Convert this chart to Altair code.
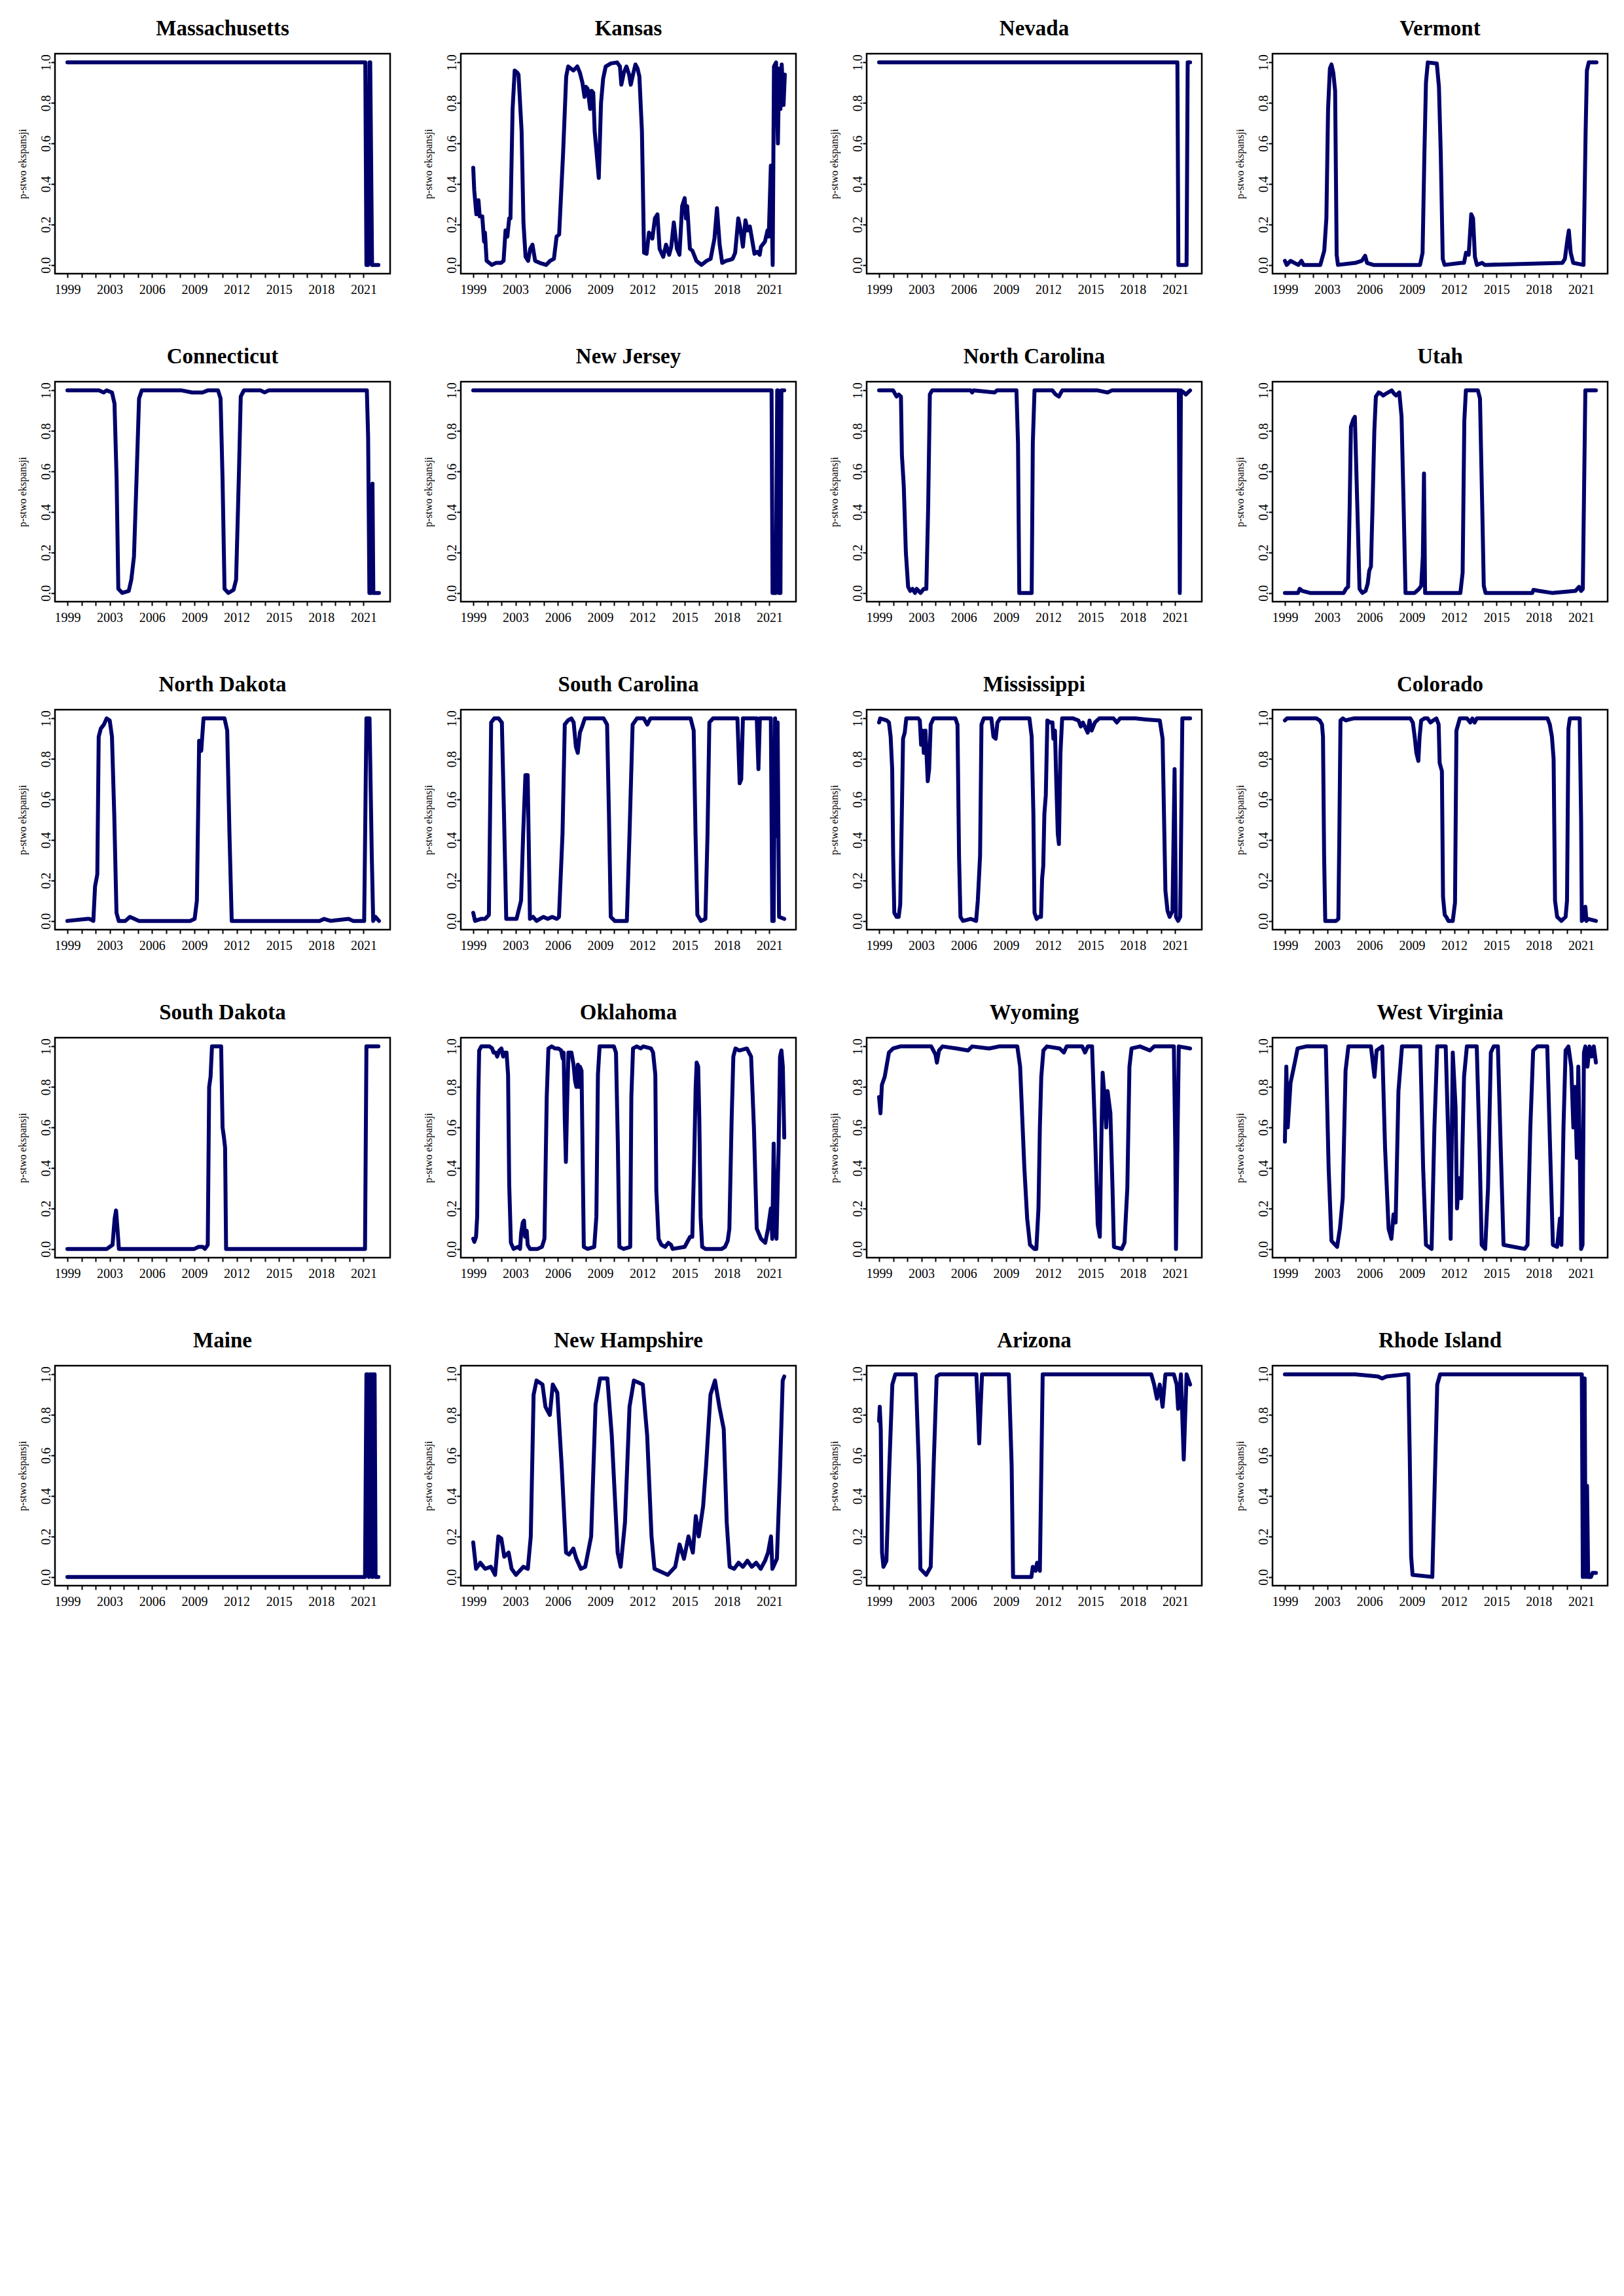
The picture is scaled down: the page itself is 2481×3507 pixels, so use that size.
import altair as alt
import pandas as pd

# x position: 0 = first tick ("1999"), one unit per tick
TICK_LABELS = ["1999", "", "", "2003", "", "", "2006", "", "", "2009", "", "",
               "2012", "", "", "2015", "", "", "2018", "", "", "2021"]
Y_TICKS = [0.0, 0.2, 0.4, 0.6, 0.8, 1.0]
Y_TITLE = "p-stwo ekspansji"

MASSACHUSETTS = [(0, 1.0), (21.12, 1.0), (21.2, 0.0), (21.32, 0.0), (21.42, 1.0), (21.47, 1.0),
                 (21.6, 0.0), (22.05, 0.0)]

KANSAS = [(0, 0.48), (0.07, 0.37), (0.22, 0.25), (0.37, 0.32), (0.46, 0.24), (0.64, 0.24), (0.77, 0.115),
          (0.83, 0.16), (0.95, 0.02), (1.32, 0.0), (1.6, 0.01), (1.96, 0.01), (2.15, 0.02), (2.29, 0.17),
          (2.42, 0.14), (2.55, 0.23), (2.64, 0.23), (2.79, 0.77), (2.94, 0.96), (3.12, 0.95), (3.21, 0.94),
          (3.43, 0.66), (3.56, 0.21), (3.71, 0.04), (3.89, 0.02), (4.04, 0.08), (4.2, 0.10), (4.39, 0.02),
          (4.72, 0.01), (5.17, 0.0), (5.45, 0.02), (5.72, 0.03), (5.91, 0.14), (6.09, 0.15), (6.37, 0.55),
          (6.59, 0.93), (6.73, 0.98), (7.1, 0.96), (7.38, 0.98), (7.56, 0.95), (7.74, 0.9), (7.89, 0.83),
          (7.98, 0.88), (8.11, 0.87), (8.29, 0.77), (8.39, 0.86), (8.51, 0.85), (8.61, 0.66), (8.75, 0.55),
          (8.9, 0.43), (9.06, 0.8), (9.21, 0.92), (9.39, 0.98), (9.76, 0.995), (10.2, 1.0), (10.4, 0.98),
          (10.5, 0.89), (10.68, 0.95), (10.86, 0.98), (11.05, 0.94), (11.17, 0.89), (11.36, 0.95),
          (11.5, 0.99), (11.65, 0.97), (11.78, 0.93), (11.96, 0.66), (12.11, 0.06), (12.29, 0.055),
          (12.46, 0.16), (12.7, 0.13), (12.88, 0.23), (13.06, 0.25), (13.21, 0.08), (13.47, 0.04),
          (13.67, 0.10), (13.89, 0.05), (14.04, 0.09), (14.22, 0.21), (14.44, 0.08), (14.62, 0.05),
          (14.81, 0.29), (14.99, 0.33), (15.08, 0.23), (15.17, 0.29), (15.36, 0.08), (15.54, 0.07),
          (15.82, 0.02), (16.18, 0.0), (16.55, 0.02), (16.83, 0.03), (17.1, 0.13), (17.28, 0.28),
          (17.47, 0.10), (17.65, 0.01), (17.93, 0.02), (18.2, 0.025), (18.39, 0.03), (18.57, 0.06),
          (18.79, 0.23), (18.94, 0.18), (19.12, 0.09), (19.3, 0.22), (19.45, 0.17), (19.61, 0.19),
          (19.94, 0.055), (20.13, 0.065), (20.31, 0.05), (20.4, 0.09), (20.68, 0.115), (20.86, 0.17),
          (20.95, 0.14), (21.1, 0.49), (21.23, 0.0), (21.32, 0.98), (21.47, 1.0), (21.6, 0.6),
          (21.69, 0.97), (21.78, 0.77), (21.87, 0.99), (22.0, 0.79), (22.09, 0.94)]

NEVADA = [(0, 1.0), (21.15, 1.0), (21.22, 0.0), (21.8, 0.0), (21.88, 1.0), (22.05, 1.0)]

VERMONT = [(0, 0.02), (0.13, 0.0), (0.4, 0.02), (0.68, 0.01), (0.95, 0.0), (1.17, 0.02), (1.32, 0.0),
           (2.51, 0.0), (2.79, 0.07), (2.94, 0.23), (3.06, 0.77), (3.19, 0.97), (3.3, 0.99), (3.43, 0.95),
           (3.56, 0.86), (3.67, 0.05), (3.76, 0.0), (4.99, 0.01), (5.45, 0.02), (5.69, 0.045), (5.82, 0.01),
           (6.28, 0.0), (9.58, 0.0), (9.76, 0.06), (9.89, 0.55), (10.0, 0.9), (10.13, 1.0), (10.77, 0.995),
           (10.92, 0.88), (11.05, 0.55), (11.19, 0.03), (11.32, 0.0), (12.51, 0.01), (12.7, 0.01),
           (12.84, 0.06), (13.03, 0.05), (13.21, 0.25), (13.34, 0.23), (13.47, 0.04), (13.61, 0.0),
           (13.98, 0.01), (14.17, 0.0), (19.67, 0.01), (19.85, 0.03), (20.04, 0.13), (20.13, 0.17),
           (20.26, 0.06), (20.44, 0.01), (21.17, 0.0), (21.32, 0.66), (21.41, 0.96), (21.54, 1.0),
           (22.09, 1.0)]

CONNECTICUT = [(0, 1.0), (2.24, 1.0), (2.57, 0.99), (2.79, 1.0), (3.16, 0.99), (3.34, 0.935), (3.49, 0.56),
               (3.61, 0.02), (3.89, 0.0), (4.35, 0.01), (4.53, 0.065), (4.72, 0.18), (4.9, 0.56),
               (5.08, 0.96), (5.27, 1.0), (8.11, 1.0), (8.84, 0.99), (9.58, 0.99), (9.94, 1.0),
               (10.68, 1.0), (10.86, 0.96), (11.0, 0.56), (11.14, 0.02), (11.41, 0.0), (11.78, 0.015),
               (11.96, 0.065), (12.15, 0.56), (12.29, 0.97), (12.51, 1.0), (13.7, 1.0), (13.98, 0.99),
               (14.26, 1.0), (21.23, 1.0), (21.32, 0.77), (21.41, 0.0), (21.54, 0.0), (21.63, 0.54),
               (21.69, 0.0), (22.09, 0.0)]

NEW_JERSEY = [(0, 1.0), (21.15, 1.0), (21.22, 0.0), (21.45, 0.0), (21.55, 1.0), (21.6, 1.0), (21.68, 0.0),
              (21.78, 0.0), (21.85, 1.0), (22.05, 1.0)]

NORTH_CAROLINA = [(0, 1.0), (1.0, 1.0), (1.24, 0.97), (1.39, 0.98), (1.55, 0.97), (1.62, 0.68), (1.75, 0.53),
                  (1.9, 0.2), (2.06, 0.03), (2.21, 0.01), (2.37, 0.02), (2.55, 0.0), (2.67, 0.02),
                  (2.94, 0.0), (3.17, 0.02), (3.35, 0.02), (3.48, 0.42), (3.6, 0.98), (3.76, 1.0),
                  (6.49, 1.0), (6.6, 0.99), (6.7, 1.0), (8.2, 0.99), (8.35, 1.0), (9.74, 1.0), (9.85, 0.74),
                  (9.94, 0.0), (10.82, 0.0), (10.9, 0.74), (11.02, 1.0), (12.29, 1.0), (12.52, 0.98),
                  (12.75, 0.97), (12.98, 1.0), (15.5, 1.0), (16.2, 0.99), (16.5, 1.0), (21.25, 1.0),
                  (21.32, 0.0), (21.4, 1.0), (21.6, 0.99), (21.75, 0.98), (21.9, 0.99), (22.05, 1.0)]

UTAH = [(0, 0.0), (0.93, 0.0), (1.05, 0.02), (1.24, 0.01), (1.78, 0.0), (4.17, 0.0), (4.33, 0.02), (4.48, 0.03),
        (4.59, 0.42), (4.68, 0.82), (4.84, 0.855), (4.96, 0.87), (5.05, 0.64), (5.18, 0.31), (5.29, 0.02),
        (5.49, 0.0), (5.72, 0.01), (5.87, 0.045), (5.98, 0.11), (6.1, 0.13), (6.21, 0.42), (6.34, 0.8),
        (6.45, 0.97), (6.65, 0.99), (6.8, 0.985), (6.96, 0.975), (7.19, 0.985), (7.57, 1.0), (7.73, 0.985),
        (7.88, 0.975), (8.11, 0.99), (8.27, 0.87), (8.42, 0.42), (8.55, 0.0), (9.2, 0.0), (9.51, 0.02),
        (9.66, 0.035), (9.78, 0.18), (9.86, 0.59), (9.94, 0.0), (12.44, 0.0), (12.6, 0.1), (12.72, 0.85),
        (12.83, 1.0), (13.68, 1.0), (13.83, 0.96), (13.99, 0.42), (14.1, 0.035), (14.22, 0.0), (17.54, 0.0),
        (17.62, 0.015), (18.0, 0.01), (18.93, 0.0), (20.6, 0.01), (20.85, 0.03), (21.0, 0.01), (21.12, 0.02),
        (21.3, 1.0), (22.05, 1.0)]

NORTH_DAKOTA = [(0, 0.0), (1.42, 0.01), (1.58, 0.01), (1.84, 0.0), (1.96, 0.17), (2.12, 0.23), (2.22, 0.91),
                (2.37, 0.95), (2.59, 0.97), (2.78, 1.0), (3.0, 0.99), (3.16, 0.91), (3.32, 0.53), (3.48, 0.04),
                (3.64, 0.0), (4.11, 0.0), (4.43, 0.02), (4.75, 0.01), (5.06, 0.0), (8.7, 0.0), (9.02, 0.01),
                (9.18, 0.1), (9.34, 0.89), (9.49, 0.84), (9.65, 1.0), (11.14, 1.0), (11.33, 0.94),
                (11.49, 0.43), (11.65, 0.0), (17.88, 0.0), (18.2, 0.01), (18.67, 0.0), (19.94, 0.01),
                (20.25, 0.0), (21.04, 0.0), (21.2, 1.0), (21.42, 1.0), (21.58, 0.32), (21.68, 0.0),
                (21.84, 0.02), (22.09, 0.0)]

SOUTH_CAROLINA = [(0, 0.04), (0.13, 0.0), (0.54, 0.01), (0.85, 0.01), (1.11, 0.03), (1.27, 0.98), (1.49, 1.0),
                  (1.8, 1.0), (2.03, 0.98), (2.18, 0.53), (2.34, 0.01), (3.07, 0.01), (3.39, 0.1), (3.54, 0.43),
                  (3.7, 0.72), (3.86, 0.72), (4.02, 0.01), (4.24, 0.02), (4.49, 0.0), (4.97, 0.02), (5.28, 0.01),
                  (5.6, 0.02), (5.92, 0.01), (6.08, 0.02), (6.33, 0.43), (6.49, 0.97), (6.71, 0.99), (6.96, 1.0),
                  (7.12, 0.98), (7.28, 0.86), (7.41, 0.83), (7.56, 0.93), (7.72, 0.96), (7.91, 1.0), (9.24, 1.0),
                  (9.49, 0.97), (9.62, 0.53), (9.75, 0.02), (10.03, 0.0), (10.89, 0.0), (11.08, 0.43),
                  (11.3, 0.97), (11.61, 1.0), (12.09, 1.0), (12.34, 0.97), (12.56, 1.0), (15.41, 1.0),
                  (15.63, 0.94), (15.76, 0.43), (15.89, 0.03), (16.14, 0.0), (16.46, 0.01), (16.61, 0.43),
                  (16.74, 0.98), (17.0, 1.0), (18.73, 1.0), (18.89, 0.68), (19.0, 0.7), (19.12, 1.0),
                  (20.1, 1.0), (20.22, 0.75), (20.32, 1.0), (21.1, 1.0), (21.2, 0.0), (21.3, 0.0), (21.4, 1.0),
                  (21.5, 0.42), (21.58, 0.98), (21.68, 0.02), (22.05, 0.01)]

MISSISSIPPI = [(0, 0.98), (0.08, 1.0), (0.54, 0.99), (0.7, 0.98), (0.82, 0.91), (0.93, 0.75), (1.0, 0.32),
               (1.08, 0.04), (1.24, 0.02), (1.39, 0.02), (1.5, 0.08), (1.59, 0.43), (1.7, 0.9), (1.82, 0.93),
               (1.93, 1.0), (2.78, 1.0), (2.89, 0.99), (2.98, 0.87), (3.09, 0.94), (3.17, 0.83), (3.29, 0.94),
               (3.45, 0.69), (3.55, 0.75), (3.66, 0.97), (3.86, 1.0), (5.41, 1.0), (5.56, 0.97), (5.67, 0.32),
               (5.77, 0.02), (5.95, 0.0), (6.49, 0.01), (6.88, 0.0), (7.0, 0.1), (7.16, 0.32), (7.26, 0.97),
               (7.42, 1.0), (7.96, 1.0), (8.11, 0.91), (8.27, 0.9), (8.39, 0.98), (8.58, 1.0), (10.66, 1.0),
               (10.82, 0.91), (10.94, 0.53), (11.02, 0.04), (11.17, 0.01), (11.33, 0.02), (11.48, 0.02),
               (11.56, 0.21), (11.64, 0.27), (11.72, 0.53), (11.82, 0.62), (11.93, 0.99), (12.13, 0.98),
               (12.29, 0.98), (12.36, 0.9), (12.47, 0.94), (12.57, 0.67), (12.67, 0.43), (12.75, 0.38),
               (12.86, 0.83), (12.98, 1.0), (13.76, 1.0), (14.14, 0.99), (14.3, 0.96), (14.45, 0.98),
               (14.79, 0.93), (14.92, 0.99), (15.07, 0.94), (15.3, 0.98), (15.61, 1.0), (16.62, 1.0),
               (16.86, 0.98), (17.08, 1.0), (18.16, 1.0), (18.93, 0.995), (19.9, 0.99), (20.1, 0.9),
               (20.3, 0.15), (20.45, 0.05), (20.6, 0.02), (20.8, 0.05), (20.95, 0.75), (21.05, 0.02),
               (21.2, 0.0), (21.35, 0.02), (21.5, 1.0), (22.05, 1.0)]

COLORADO = [(0, 0.99), (0.15, 1.0), (2.24, 1.0), (2.47, 0.99), (2.63, 0.97), (2.7, 0.91), (2.78, 0.32),
            (2.86, 0.0), (3.63, 0.0), (3.79, 0.01), (3.86, 0.43), (3.94, 0.99), (4.1, 1.0), (4.33, 0.99),
            (4.56, 0.995), (4.87, 1.0), (8.89, 1.0), (9.07, 0.98), (9.2, 0.91), (9.32, 0.83), (9.46, 0.79),
            (9.55, 0.91), (9.66, 0.99), (9.89, 1.0), (10.12, 1.0), (10.32, 0.98), (10.51, 0.99), (10.74, 1.0),
            (10.9, 0.97), (10.97, 0.78), (11.13, 0.74), (11.21, 0.12), (11.33, 0.03), (11.44, 0.02),
            (11.59, 0.0), (11.9, 0.0), (12.06, 0.09), (12.16, 0.94), (12.4, 1.0), (12.91, 1.0), (13.14, 0.98),
            (13.29, 1.0), (13.45, 0.98), (13.6, 1.0), (18.62, 1.0), (18.78, 0.97), (18.93, 0.91),
            (19.05, 0.8), (19.15, 0.1), (19.3, 0.02), (19.6, 0.0), (19.9, 0.02), (20.0, 0.1), (20.1, 0.95),
            (20.2, 1.0), (20.9, 1.0), (21.0, 0.5), (21.05, 0.0), (21.2, 0.01), (21.3, 0.07), (21.38, 0.0),
            (21.5, 0.01), (22.05, 0.0)]

SOUTH_DAKOTA = [(0, 0.0), (2.8, 0.0), (3.0, 0.01), (3.2, 0.02), (3.35, 0.15), (3.45, 0.19), (3.55, 0.1),
                (3.65, 0.0), (9.0, 0.0), (9.3, 0.01), (9.6, 0.01), (9.75, 0.0), (9.95, 0.02), (10.05, 0.8),
                (10.15, 0.85), (10.25, 1.0), (10.9, 1.0), (11.0, 0.6), (11.1, 0.55), (11.18, 0.5),
                (11.25, 0.0), (21.1, 0.0), (21.2, 1.0), (22.05, 1.0)]

OKLAHOMA = [(0, 0.05), (0.08, 0.035), (0.2, 0.06), (0.28, 0.16), (0.36, 0.75), (0.42, 0.98), (0.57, 1.0),
            (1.16, 1.0), (1.34, 0.99), (1.44, 0.97), (1.59, 0.97), (1.7, 0.95), (1.85, 0.98), (2.0, 0.99),
            (2.12, 0.95), (2.24, 0.97), (2.36, 0.97), (2.47, 0.86), (2.55, 0.32), (2.67, 0.03), (2.86, 0.0),
            (3.17, 0.01), (3.32, 0.0), (3.4, 0.08), (3.51, 0.13), (3.6, 0.14), (3.68, 0.06), (3.79, 0.09),
            (3.86, 0.02), (4.02, 0.0), (4.56, 0.0), (4.87, 0.01), (5.05, 0.05), (5.21, 0.75), (5.33, 0.99),
            (5.56, 1.0), (5.8, 0.99), (6.03, 0.99), (6.23, 0.98), (6.34, 0.94), (6.41, 0.97), (6.49, 0.64),
            (6.57, 0.43), (6.65, 0.7), (6.75, 0.97), (6.96, 0.97), (7.11, 0.91), (7.22, 0.83), (7.31, 0.8),
            (7.42, 0.91), (7.5, 0.8), (7.57, 0.9), (7.68, 0.88), (7.76, 0.43), (7.84, 0.01), (8.11, 0.0),
            (8.58, 0.01), (8.73, 0.16), (8.84, 0.86), (8.96, 1.0), (9.97, 1.0), (10.12, 0.97), (10.25, 0.53),
            (10.36, 0.01), (10.66, 0.0), (11.13, 0.01), (11.21, 0.75), (11.33, 0.99), (11.59, 1.0),
            (11.87, 0.99), (12.06, 1.0), (12.6, 0.99), (12.75, 0.97), (12.91, 0.86), (12.98, 0.29),
            (13.14, 0.05), (13.34, 0.02), (13.6, 0.01), (13.83, 0.03), (14.02, 0.02), (14.14, 0.0),
            (14.99, 0.01), (15.22, 0.04), (15.38, 0.06), (15.53, 0.06), (15.66, 0.43), (15.77, 0.8),
            (15.84, 0.92), (15.95, 0.9), (16.03, 0.64), (16.12, 0.16), (16.23, 0.01), (16.46, 0.0),
            (17.62, 0.0), (17.85, 0.01), (18.04, 0.04), (18.16, 0.1), (18.32, 0.64), (18.44, 0.95),
            (18.59, 0.99), (18.86, 0.98), (19.4, 0.99), (19.7, 0.95), (19.9, 0.6), (20.1, 0.1), (20.4, 0.05),
            (20.7, 0.03), (20.9, 0.1), (21.1, 0.2), (21.2, 0.05), (21.3, 0.52), (21.4, 0.1), (21.5, 0.05),
            (21.65, 0.5), (21.75, 0.95), (21.85, 0.98), (21.95, 0.9), (22.05, 0.55)]

WYOMING = [(0, 0.75), (0.1, 0.67), (0.2, 0.81), (0.4, 0.85), (0.7, 0.97), (1.0, 0.99), (1.5, 1.0), (3.7, 1.0),
           (4.0, 0.96), (4.1, 0.92), (4.25, 0.98), (4.5, 1.0), (5.5, 0.99), (6.3, 0.98), (6.6, 1.0),
           (7.8, 0.99), (8.5, 1.0), (9.8, 1.0), (10.0, 0.9), (10.3, 0.4), (10.5, 0.15), (10.7, 0.02),
           (11.0, 0.0), (11.15, 0.0), (11.3, 0.2), (11.4, 0.6), (11.5, 0.85), (11.65, 0.98), (11.9, 1.0),
           (12.8, 0.99), (13.1, 0.97), (13.3, 1.0), (14.4, 1.0), (14.6, 0.97), (14.8, 1.0), (15.1, 1.0),
           (15.3, 0.6), (15.5, 0.12), (15.65, 0.06), (15.75, 0.5), (15.85, 0.87), (16.0, 0.74), (16.1, 0.6),
           (16.2, 0.78), (16.4, 0.67), (16.55, 0.3), (16.65, 0.01), (17.2, 0.0), (17.4, 0.03), (17.6, 0.3),
           (17.75, 0.9), (17.9, 0.99), (18.5, 1.0), (19.2, 0.98), (19.5, 1.0), (20.9, 1.0), (21.0, 0.5),
           (21.05, 0.0), (21.15, 0.5), (21.25, 1.0), (22.05, 0.99)]

WEST_VIRGINIA = [(0, 0.53), (0.1, 0.9), (0.2, 0.6), (0.4, 0.82), (0.7, 0.92), (0.9, 0.99), (1.5, 1.0),
                 (2.9, 1.0), (3.1, 0.4), (3.3, 0.04), (3.7, 0.01), (3.9, 0.1), (4.1, 0.25), (4.3, 0.88),
                 (4.5, 1.0), (6.1, 1.0), (6.35, 0.85), (6.5, 0.98), (6.9, 1.0), (7.1, 0.5), (7.35, 0.1),
                 (7.55, 0.05), (7.7, 0.17), (7.85, 0.13), (8.05, 0.78), (8.3, 1.0), (9.6, 1.0), (9.8, 0.4),
                 (10.0, 0.02), (10.4, 0.0), (10.6, 0.6), (10.8, 1.0), (11.4, 1.0), (11.6, 0.5), (11.75, 0.05),
                 (11.9, 0.97), (12.1, 0.7), (12.2, 0.2), (12.35, 0.35), (12.5, 0.25), (12.7, 0.85),
                 (12.9, 1.0), (13.6, 1.0), (13.8, 0.5), (13.95, 0.02), (14.2, 0.0), (14.4, 0.3), (14.6, 0.97),
                 (14.8, 1.0), (15.1, 1.0), (15.3, 0.5), (15.5, 0.02), (17.0, 0.0), (17.2, 0.02), (17.4, 0.6),
                 (17.6, 0.98), (17.9, 1.0), (18.6, 1.0), (18.8, 0.5), (19.0, 0.02), (19.3, 0.01), (19.5, 0.15),
                 (19.6, 0.02), (19.75, 0.6), (19.9, 0.98), (20.1, 1.0), (20.3, 0.9), (20.45, 0.6),
                 (20.55, 0.8), (20.7, 0.45), (20.8, 0.9), (20.9, 0.5), (21.0, 0.0), (21.1, 0.02),
                 (21.2, 0.97), (21.3, 1.0), (21.45, 0.9), (21.6, 1.0), (21.75, 0.95), (21.9, 1.0),
                 (22.05, 0.92)]

MAINE = [(0, 0.0), (21.1, 0.0), (21.2, 1.0), (21.3, 1.0), (21.38, 0.0), (21.45, 1.0), (21.55, 1.0),
         (21.62, 0.0), (21.68, 1.0), (21.78, 1.0), (21.85, 0.0), (22.05, 0.0)]

NEW_HAMPSHIRE = [(0, 0.17), (0.2, 0.04), (0.5, 0.07), (0.85, 0.04), (1.25, 0.05), (1.55, 0.01), (1.78, 0.2),
                 (1.99, 0.19), (2.2, 0.1), (2.51, 0.12), (2.72, 0.04), (3.03, 0.01), (3.55, 0.05),
                 (3.87, 0.04), (4.08, 0.2), (4.28, 0.9), (4.49, 0.97), (4.91, 0.95), (5.12, 0.84),
                 (5.43, 0.8), (5.64, 0.95), (5.96, 0.91), (6.27, 0.55), (6.58, 0.12), (6.79, 0.11),
                 (7.1, 0.14), (7.31, 0.09), (7.63, 0.04), (7.94, 0.05), (8.36, 0.2), (8.67, 0.85),
                 (8.99, 0.98), (9.51, 0.98), (9.82, 0.7), (10.24, 0.12), (10.45, 0.05), (10.76, 0.27),
                 (11.08, 0.84), (11.39, 0.97), (12.02, 0.95), (12.33, 0.7), (12.64, 0.2), (12.85, 0.04),
                 (13.79, 0.01), (14.32, 0.05), (14.63, 0.16), (14.94, 0.09), (15.26, 0.2), (15.57, 0.12),
                 (15.78, 0.3), (15.99, 0.2), (16.3, 0.35), (16.51, 0.55), (16.82, 0.9), (17.14, 0.97),
                 (17.45, 0.84), (17.76, 0.73), (17.97, 0.27), (18.18, 0.05), (18.5, 0.04), (18.81, 0.07),
                 (19.12, 0.05), (19.44, 0.08), (19.75, 0.05), (20.06, 0.07), (20.38, 0.04), (20.69, 0.08),
                 (20.9, 0.12), (21.11, 0.2), (21.21, 0.04), (21.53, 0.09), (21.73, 0.48), (21.94, 0.97),
                 (22.05, 0.99)]

ARIZONA = [(0, 0.77), (0.05, 0.84), (0.12, 0.73), (0.21, 0.12), (0.31, 0.05), (0.52, 0.08), (0.73, 0.55),
           (0.94, 0.95), (1.15, 1.0), (2.6, 1.0), (2.82, 0.55), (2.93, 0.04), (3.34, 0.01), (3.66, 0.05),
           (3.87, 0.55), (4.08, 0.99), (4.3, 1.0), (6.9, 1.0), (7.0, 0.84), (7.1, 0.66), (7.2, 0.84),
           (7.3, 1.0), (9.2, 1.0), (9.4, 0.55), (9.5, 0.0), (10.8, 0.0), (10.9, 0.05), (11.1, 0.03),
           (11.2, 0.07), (11.4, 0.03), (11.6, 1.0), (19.3, 1.0), (19.5, 0.95), (19.7, 0.88), (19.9, 0.95),
           (20.1, 0.84), (20.3, 1.0), (20.9, 1.0), (21.1, 0.95), (21.2, 0.83), (21.4, 1.0), (21.6, 0.58),
           (21.8, 1.0), (21.95, 0.97), (22.05, 0.95)]

RHODE_ISLAND = [(0, 1.0), (5.0, 1.0), (6.6, 0.99), (6.9, 0.98), (7.2, 0.99), (8.5, 1.0), (8.75, 1.0),
                (8.85, 0.6), (8.95, 0.1), (9.05, 0.01), (10.45, 0.0), (10.6, 0.4), (10.8, 0.95), (11.0, 1.0),
                (21.05, 1.0), (21.12, 0.0), (21.18, 0.98), (21.25, 0.98), (21.32, 0.0), (21.42, 0.45),
                (21.5, 0.0), (21.7, 0.0), (21.8, 0.02), (22.05, 0.02)]

PANELS = [
    ("Massachusetts", MASSACHUSETTS), ("Kansas", KANSAS), ("Nevada", NEVADA), ("Vermont", VERMONT),
    ("Connecticut", CONNECTICUT), ("New Jersey", NEW_JERSEY), ("North Carolina", NORTH_CAROLINA), ("Utah", UTAH),
    ("North Dakota", NORTH_DAKOTA), ("South Carolina", SOUTH_CAROLINA), ("Mississippi", MISSISSIPPI),
    ("Colorado", COLORADO),
    ("South Dakota", SOUTH_DAKOTA), ("Oklahoma", OKLAHOMA), ("Wyoming", WYOMING), ("West Virginia", WEST_VIRGINIA),
    ("Maine", MAINE), ("New Hampshire", NEW_HAMPSHIRE), ("Arizona", ARIZONA), ("Rhode Island", RHODE_ISLAND),
]

FONT = "Liberation Serif"
LINE_COLOR = "#00006b"
W, H = 512, 336

label_expr = "[" + ",".join("'%s'" % s for s in TICK_LABELS) + "][datum.value]"


def panel(name, pts):
    df = pd.DataFrame(pts, columns=["t", "p"])
    return (
        alt.Chart(df, title=alt.TitleParams(
            text=name, font=FONT, fontSize=33, fontWeight="bold", color="black",
            anchor="middle", frame="group", baseline="alphabetic", offset=-5))
        .mark_line(color=LINE_COLOR, strokeWidth=6, strokeCap="round", strokeJoin="round")
        .encode(
            x=alt.X("t:Q", title=None,
                    scale=alt.Scale(domain=[-0.88, 22.88], nice=False, zero=False),
                    axis=alt.Axis(values=list(range(len(TICK_LABELS))), labelExpr=label_expr,
                                  labelFlush=False, labelOverlap=False, labelAngle=0,
                                  labelPadding=8, tickSize=6, tickWidth=2, grid=False, domain=False)),
            y=alt.Y("p:Q", title=Y_TITLE,
                    scale=alt.Scale(domain=[-0.0432, 1.0432], nice=False, zero=False),
                    axis=alt.Axis(values=Y_TICKS, format=".1f", labelAngle=270, labelAlign="center",
                                  labelBaseline="alphabetic", labelPadding=2, labelFlush=False,
                                  labelOverlap=False, tickSize=6, tickWidth=2, grid=False, domain=False,
                                  titleAngle=270, titleX=-50, titleY=H / 2, titleAlign="center",
                                  titleBaseline="middle", titleFontSize=16, titleFontWeight="normal")),
        )
        .properties(width=W, height=H)
    )


charts = [panel(n, p) for n, p in PANELS]
chart = (
    alt.concat(*charts, columns=4, spacing={"row": 165, "column": 108}, bounds="flush")
    .properties(padding={"left": 24, "top": 26, "right": 10, "bottom": 10}, background="white")
    .configure_view(stroke="black", strokeWidth=2.5)
    .configure_axis(labelFont=FONT, titleFont=FONT, labelFontSize=20, labelColor="black",
                    titleColor="black", tickColor="black")
)

chart.save("out.html", embed_options={"renderer": "svg", "actions": False})
